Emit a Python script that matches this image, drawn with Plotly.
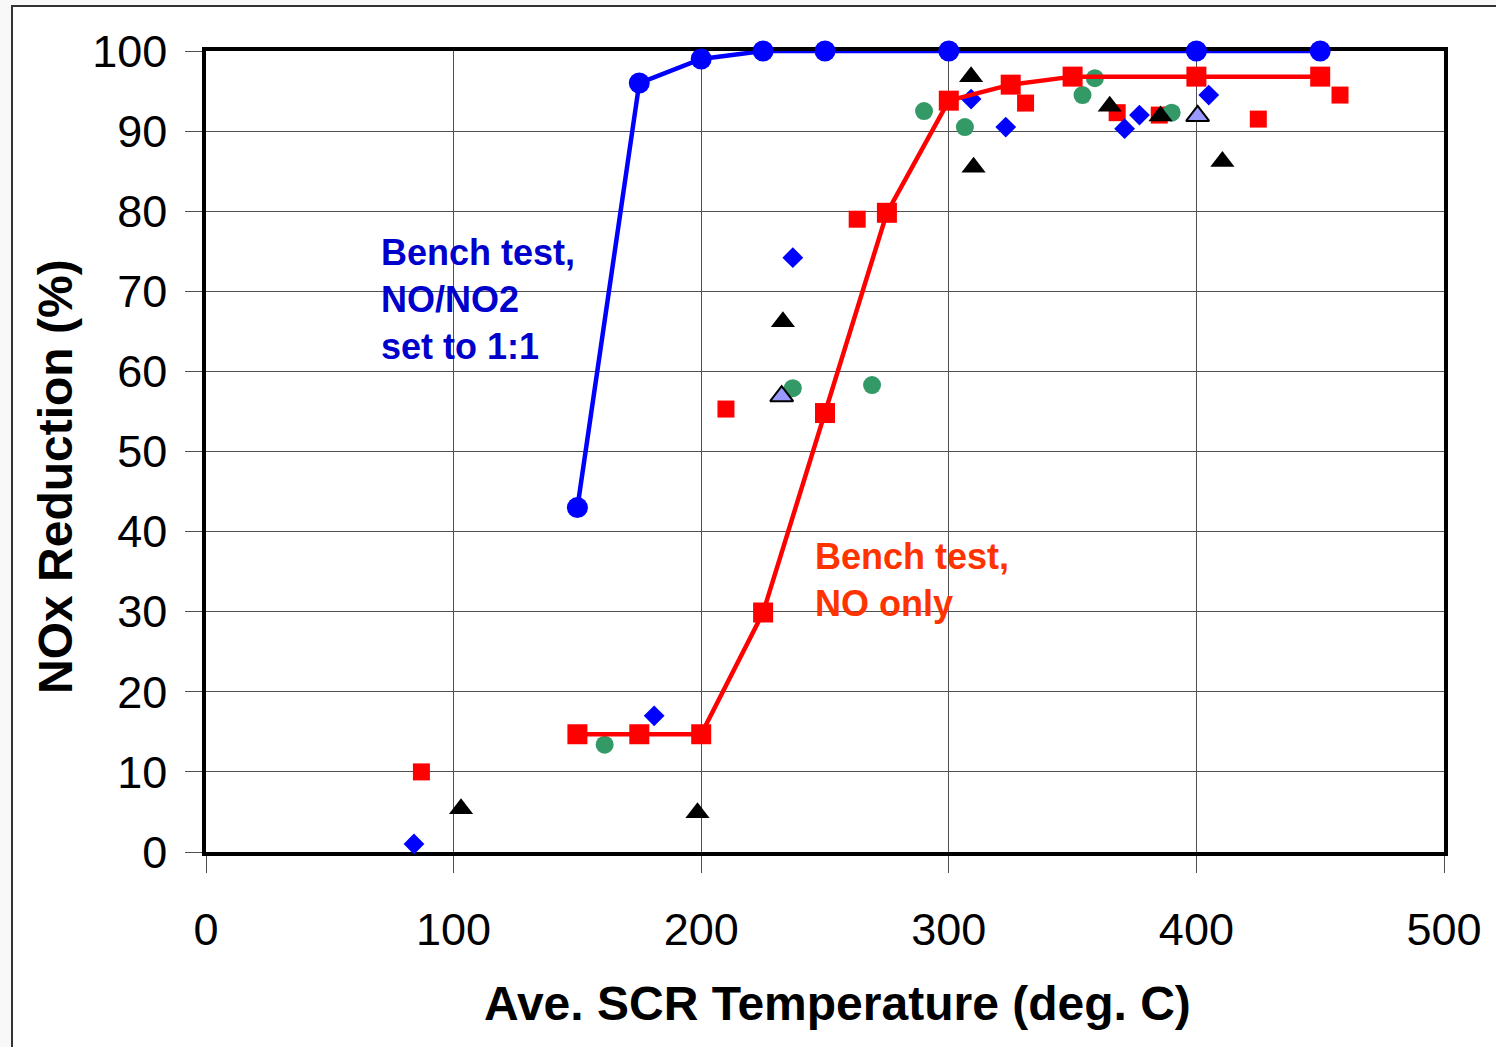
import plotly.graph_objects as go

# Bench test curves
bench_no2_temp = [150, 175, 200, 225, 250, 300, 400, 450]
bench_no2_red = [43, 96, 99, 100, 100, 100, 100, 100]

bench_no_temp = [150, 175, 200, 225, 250, 275, 300, 325, 350, 400, 450]
bench_no_red = [14.7, 14.7, 14.7, 29.9, 54.8, 79.8, 93.8, 95.8, 96.8, 96.8, 96.8]

# Engine / vehicle test points
sq_temp = [87, 210, 263, 331, 368, 385, 425, 458]
sq_red = [10.0, 55.3, 79.0, 93.5, 92.3, 92.0, 91.5, 94.5]

dia_temp = [84, 181, 237, 309, 323, 371, 377, 405]
dia_red = [1.0, 17.0, 74.2, 94.0, 90.5, 90.3, 92.0, 94.5]

circ_temp = [161, 237, 269, 290, 306.5, 354, 359, 390]
circ_red = [13.4, 57.9, 58.3, 92.5, 90.5, 94.5, 96.6, 92.3]

tri_temp = [103, 198.5, 233, 309, 310, 365, 385.5, 410.5]
tri_red = [5.4, 4.9, 66.2, 96.8, 85.5, 93.1, 91.9, 86.2]

tri2_temp = [232.5, 400.5]
tri2_red = [56.9, 91.9]

x_ticks = [0, 100, 200, 300, 400, 500]
y_ticks = [0, 10, 20, 30, 40, 50, 60, 70, 80, 90, 100]

FONT = "Liberation Sans, Arial"
W, H = 1496, 1047
L, R, T, B = 206, 52, 51, 195
PW, PH = W - L - R, H - T - B


def px_x(px):
    return (px - L) / PW


def px_y(py):
    return (H - B - py) / PH


fig = go.Figure()

fig.add_trace(go.Scatter(x=sq_temp, y=sq_red, mode="markers",
                         marker=dict(symbol="square", size=17, color="#FF0000"),
                         cliponaxis=False))
fig.add_trace(go.Scatter(x=dia_temp, y=dia_red, mode="markers",
                         marker=dict(symbol="diamond", size=16, color="#0000FF"),
                         cliponaxis=False))
fig.add_trace(go.Scatter(x=circ_temp, y=circ_red, mode="markers",
                         marker=dict(symbol="circle", size=18, color="#339966"),
                         cliponaxis=False))
fig.add_trace(go.Scatter(x=tri_temp, y=tri_red, mode="markers",
                         marker=dict(symbol="triangle-up", size=21, color="#000000"),
                         cliponaxis=False))
fig.add_trace(go.Scatter(x=tri2_temp, y=tri2_red, mode="markers",
                         marker=dict(symbol="triangle-up", size=20, color="#9999FF",
                                     line=dict(color="#000000", width=2)),
                         cliponaxis=False))
fig.add_trace(go.Scatter(x=bench_no_temp, y=bench_no_red, mode="lines+markers",
                         line=dict(color="#FF0000", width=4.5),
                         marker=dict(symbol="square", size=20, color="#FF0000"),
                         cliponaxis=False))
fig.add_trace(go.Scatter(x=bench_no2_temp, y=bench_no2_red, mode="lines+markers",
                         line=dict(color="#0000FF", width=4.5),
                         marker=dict(symbol="circle", size=21, color="#0000FF"),
                         cliponaxis=False))

fig.add_annotation(x=70.0, y=69.0, xref="x", yref="y", xanchor="left", yanchor="middle",
                   align="left", showarrow=False,
                   text="<b>Bench test,<br>NO/NO2<br>set to 1:1</b>",
                   font=dict(family=FONT, size=36, color="#0000CC"))
fig.add_annotation(x=245, y=34.0, xref="x", yref="y", xanchor="left", yanchor="middle",
                   align="left", showarrow=False,
                   text="<b>Bench test,<br>NO only</b>",
                   font=dict(family=FONT, size=36, color="#FF3300"))

# axis titles
fig.add_annotation(x=px_x(837), y=px_y(1003), xref="paper", yref="paper",
                   xanchor="center", yanchor="middle", showarrow=False,
                   text="<b>Ave. SCR Temperature (deg. C)</b>",
                   font=dict(family=FONT, size=48, color="black"))
fig.add_annotation(x=px_x(55), y=px_y(477), xref="paper", yref="paper",
                   xanchor="center", yanchor="middle", showarrow=False, textangle=-90,
                   text="<b>NOx Reduction (%)</b>",
                   font=dict(family=FONT, size=48, color="black"))

# page frame
fig.add_shape(type="rect", xref="paper", yref="paper",
              x0=px_x(12), x1=1.2, y0=-0.5, y1=px_y(6),
              line=dict(color="#333333", width=2), fillcolor="white", layer="below")

axis_common = dict(
    showgrid=True, gridcolor="#505050", gridwidth=1.3,
    showline=True, linecolor="black", linewidth=3.5, mirror=True,
    ticks="outside", ticklen=17, tickwidth=1.3, tickcolor="#505050",
    zeroline=False, layer="below traces",
    tickfont=dict(family=FONT, size=45, color="black"),
)

fig.update_xaxes(range=[0, 500], tickvals=x_ticks, ticklabelstandoff=18, **axis_common)
fig.update_yaxes(range=[0, 100], tickvals=y_ticks, ticklabelstandoff=9, **axis_common)

fig.update_layout(
    width=W, height=H,
    margin=dict(l=L, r=R, t=T, b=B, autoexpand=False),
    paper_bgcolor="#f8f8f8", plot_bgcolor="white",
    showlegend=False,
)

fig.write_html("out.html")
